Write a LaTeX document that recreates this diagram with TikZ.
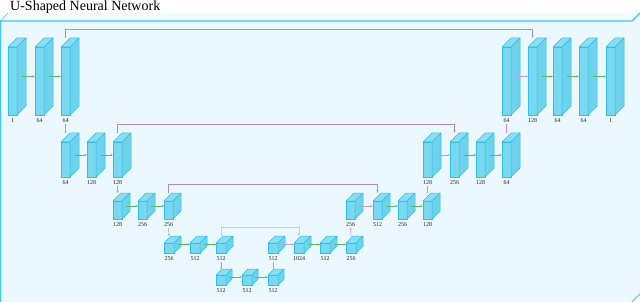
\documentclass[tikz,border=0pt]{standalone}
\usepackage{fontspec}
\setmainfont{Liberation Serif}
\usepackage{tikz}
\usetikzlibrary{arrows.meta,positioning,calc}
\definecolor{Frame}{HTML}{3CC8EE}
\definecolor{FrameFill}{HTML}{EBF8FD}
\definecolor{FrameTop}{HTML}{F2FBFE}
\definecolor{BlkFill}{HTML}{78D8EF}
\definecolor{BlkTop}{HTML}{8ADEF2}
\definecolor{BlkSide}{HTML}{6DD3EC}
\definecolor{BlkEdge}{HTML}{2FBFE8}
\definecolor{FwdGreen}{HTML}{5CB862}
\definecolor{CatLav}{HTML}{B7A0DD}
\definecolor{SkipPurple}{HTML}{A98BD8}
\definecolor{UpPink}{HTML}{E58AD4}
\definecolor{DownGray}{HTML}{A9A9A9}
\tikzset{
    blkface/.style={draw=BlkEdge, fill=BlkFill, line width=0.5pt, inner sep=0pt, outer sep=0pt},
    blktop/.style={draw=BlkEdge, fill=BlkTop, line width=0.5pt, line join=round},
    blkside/.style={draw=BlkEdge, fill=BlkSide, line width=0.5pt, line join=round},
    blklbl/.style={font=\fontsize{6}{6}\selectfont, inner sep=1pt, text=black!85},
    fwd/.style={-{Stealth[length=2.5pt,width=2pt]}, FwdGreen, line width=0.6pt},
    catline/.style={-{Stealth[length=2.5pt,width=2pt]}, CatLav, line width=0.6pt},
    skipline/.style={-{Stealth[length=3pt,width=2pt]}, SkipPurple, line width=0.7pt},
    upline/.style={UpPink, line width=0.6pt},
    downline/.style={-{Stealth[length=2pt,width=2pt]}, DownGray, line width=0.5pt},
}
% #1 name, #2 x, #3 top y, #4 width, #5 height, #6 depth, #7 label
\newcommand{\convblk}[7]{%
    \node[blkface, minimum width=#4pt, minimum height=#5pt, anchor=north west] (#1) at (#2,#3) {};
    \filldraw[blktop] (#1.north west) -- ++(#6pt,#6pt) -- ++(#4pt,0pt) -- (#1.north east) -- cycle;
    \filldraw[blkside] (#1.north east) -- ++(#6pt,#6pt) -- ++(0pt,-#5pt) -- (#1.south east) -- cycle;
    \node[blklbl, below=2.5pt of #1] (#1-l) {#7};
}

\begin{document}
\begin{tikzpicture}[x=1pt, y=-1pt]
    \useasboundingbox (0,0) rectangle (640,302);

    % Frame
    \fill[FrameFill] (0,21) rectangle (632,302);
    \fill[FrameTop] (0,21) -- (8,13) -- (640,13) -- (632,21) -- cycle;
    \fill[FrameFill] (632,21) -- (640,13) -- (640,294) -- (632,302) -- cycle;
    \draw[Frame, line width=1.2pt] (0.6,302) -- (0.6,21) -- (632,21) -- (640,13);
    \draw[Frame, line width=0.5pt] (0.6,21) -- (8,13);
    \draw[Frame, line width=0.8pt] (632,302) -- (640,294);
    \node[anchor=base west, font=\fontsize{14}{15}\selectfont, inner sep=0pt] (title) at (10,10.2) {U-Shaped Neural Network};

    % Level 1
    \convblk{l1a}{8}{47}{9}{68}{9}{1}
    \convblk{l1b}{35}{47}{9}{68}{9}{64}
    \convblk{l1c}{61}{47}{9}{68}{9}{64}
    \convblk{r1a}{502}{47}{9}{68}{9}{64}
    \convblk{r1b}{528}{47}{9}{68}{9}{128}
    \convblk{r1c}{553}{47}{9}{68}{9}{64}
    \convblk{r1d}{579}{47}{9}{68}{9}{64}
    \convblk{r1e}{606}{47}{9}{68}{9}{1}

    % Level 2
    \convblk{l2a}{61}{142}{9}{35}{9}{64}
    \convblk{l2b}{87}{142}{9}{35}{9}{128}
    \convblk{l2c}{113}{142}{9}{35}{9}{128}
    \convblk{r2a}{423}{142}{9}{35}{9}{128}
    \convblk{r2b}{450}{142}{9}{35}{9}{256}
    \convblk{r2c}{476}{142}{9}{35}{9}{128}
    \convblk{r2d}{502}{142}{9}{35}{9}{64}

    % Level 3
    \convblk{l3a}{113}{201}{9}{18}{8}{128}
    \convblk{l3b}{138}{201}{9}{18}{8}{256}
    \convblk{l3c}{164}{201}{9}{18}{8}{256}
    \convblk{r3a}{346}{201}{9}{18}{8}{256}
    \convblk{r3b}{373}{201}{9}{18}{8}{512}
    \convblk{r3c}{398}{201}{9}{18}{8}{256}
    \convblk{r3d}{423}{201}{9}{18}{8}{128}

    % Level 4
    \convblk{l4a}{164}{243}{10}{10}{7}{256}
    \convblk{l4b}{190}{243}{10}{10}{7}{512}
    \convblk{l4c}{216}{243}{10}{10}{7}{512}
    \convblk{r4a}{268}{243}{10}{10}{7}{512}
    \convblk{r4b}{294}{243}{10}{10}{7}{1024}
    \convblk{r4c}{320}{243}{10}{10}{7}{512}
    \convblk{r4d}{346}{243}{10}{10}{7}{256}

    % Bottom
    \convblk{l5a}{216}{275}{10}{10}{6}{512}
    \convblk{l5b}{242}{275}{10}{10}{6}{512}
    \convblk{l5c}{268}{275}{10}{10}{6}{512}

    % Forward connections
    \draw[fwd] ([xshift=4.5pt,yshift=4.5pt]l1a.east) -- ([yshift=4.5pt]l1b.west);
    \draw[fwd] ([xshift=4.5pt,yshift=4.5pt]l1b.east) -- ([yshift=4.5pt]l1c.west);
    \draw[catline] ([xshift=4.5pt,yshift=4.5pt]r1a.east) -- ([yshift=4.5pt]r1b.west);
    \draw[fwd] ([xshift=4.5pt,yshift=4.5pt]r1b.east) -- ([yshift=4.5pt]r1c.west);
    \draw[fwd] ([xshift=4.5pt,yshift=4.5pt]r1c.east) -- ([yshift=4.5pt]r1d.west);
    \draw[fwd] ([xshift=4.5pt,yshift=4.5pt]r1d.east) -- ([yshift=4.5pt]r1e.west);

    \draw[fwd] ([xshift=4.5pt,yshift=4.5pt]l2a.east) -- ([yshift=4.5pt]l2b.west);
    \draw[fwd] ([xshift=4.5pt,yshift=4.5pt]l2b.east) -- ([yshift=4.5pt]l2c.west);
    \draw[catline] ([xshift=4.5pt,yshift=4.5pt]r2a.east) -- ([yshift=4.5pt]r2b.west);
    \draw[fwd] ([xshift=4.5pt,yshift=4.5pt]r2b.east) -- ([yshift=4.5pt]r2c.west);
    \draw[fwd] ([xshift=4.5pt,yshift=4.5pt]r2c.east) -- ([yshift=4.5pt]r2d.west);

    \draw[fwd] ([xshift=4pt,yshift=4pt]l3a.east) -- ([yshift=4pt]l3b.west);
    \draw[fwd] ([xshift=4pt,yshift=4pt]l3b.east) -- ([yshift=4pt]l3c.west);
    \draw[catline] ([xshift=4pt,yshift=4pt]r3a.east) -- ([yshift=4pt]r3b.west);
    \draw[fwd] ([xshift=4pt,yshift=4pt]r3b.east) -- ([yshift=4pt]r3c.west);
    \draw[fwd] ([xshift=4pt,yshift=4pt]r3c.east) -- ([yshift=4pt]r3d.west);

    \draw[fwd] ([xshift=3.5pt,yshift=3.5pt]l4a.east) -- ([yshift=3.5pt]l4b.west);
    \draw[fwd] ([xshift=3.5pt,yshift=3.5pt]l4b.east) -- ([yshift=3.5pt]l4c.west);
    \draw[catline] ([xshift=3.5pt,yshift=3.5pt]r4a.east) -- ([yshift=3.5pt]r4b.west);
    \draw[fwd] ([xshift=3.5pt,yshift=3.5pt]r4b.east) -- ([yshift=3.5pt]r4c.west);
    \draw[fwd] ([xshift=3.5pt,yshift=3.5pt]r4c.east) -- ([yshift=3.5pt]r4d.west);

    \draw[fwd] ([xshift=3pt,yshift=3pt]l5a.east) -- ([yshift=3pt]l5b.west);
    \draw[fwd] ([xshift=3pt,yshift=3pt]l5b.east) -- ([yshift=3pt]l5c.west);

    % Down (pooling)
    \draw[downline] (l1c-l.south) -- ([yshift=9pt]l2a.north);
    \draw[downline] (l2c-l.south) -- ([yshift=8pt]l3a.north);
    \draw[downline] (l3c-l.south) -- ([yshift=7pt]l4a.north);
    \draw[downline] (l4c-l.south) -- ([yshift=6pt]l5a.north);

    % Up (upsampling)
    \draw[upline] ([yshift=6pt]l5c.north) -- (r4a-l.south);
    \draw[upline] ([yshift=7pt]r4d.north) -- (r3a-l.south);
    \draw[upline] ([yshift=8pt]r3d.north) -- (r2a-l.south);
    \draw[upline] ([yshift=9pt]r2d.north) -- (r1a-l.south);

    % Skip connections
    \draw[skipline] ([yshift=9pt]l1c.north) -- ++(0pt,9pt) -| ([yshift=9pt]r1b.north);
    \draw[skipline] ([yshift=9pt]l2c.north) -- ++(0pt,9pt) -| ([yshift=9pt]r2b.north);
    \draw[skipline] ([yshift=8pt]l3c.north) -- ++(0pt,9pt) -| ([yshift=8pt]r3b.north);
    \draw[skipline, draw opacity=0.45] ([yshift=7pt]l4c.north) -- ++(0pt,9pt) -| ([yshift=7pt]r4b.north);
\end{tikzpicture}
\end{document}
